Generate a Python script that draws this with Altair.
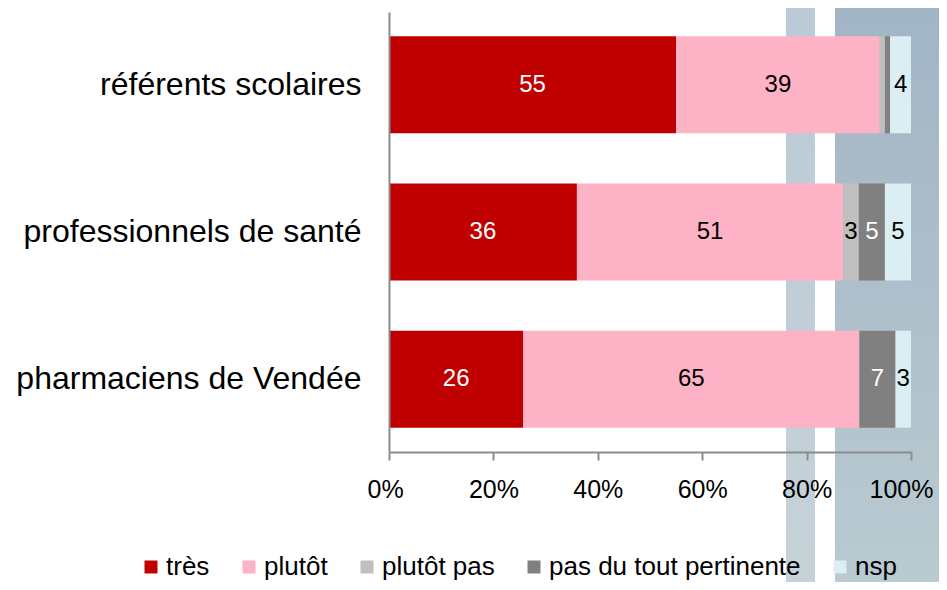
import altair as alt
import pandas as pd

categories = ["référents scolaires", "professionnels de santé", "pharmaciens de Vendée"]
series = ["très", "plutôt", "plutôt pas", "pas du tout pertinente", "nsp"]
colors = ["#C00000", "#FDB2C5", "#BFBFBF", "#808080", "#DAEEF3"]
white_label_series = ["très", "pas du tout pertinente"]

referents_scolaires = [55, 39, 1, 1, 4]
professionnels_sante = [36, 51, 3, 5, 5]
pharmaciens_vendee = [26, 65, 0, 7, 3]

rows = []
for cat, vals in zip(categories, [referents_scolaires, professionnels_sante, pharmaciens_vendee]):
    for i, (s, v) in enumerate(zip(series, vals)):
        rows.append({"cat": cat, "series": s, "order": i, "value": v})
df = pd.DataFrame(rows)

FONT = "Liberation Sans"

base = alt.Chart(df).transform_joinaggregate(
    total="sum(value)", groupby=["cat"]
).transform_calculate(
    pct="datum.value / datum.total"
).transform_stack(
    stack="pct", groupby=["cat"], sort=[alt.SortField("order", order="ascending")], as_=["x0", "x1"]
).transform_calculate(
    mid="(datum.x0 + datum.x1) / 2"
)

y_enc = alt.Y(
    "cat:N",
    sort=categories,
    title=None,
    scale=alt.Scale(paddingInner=0.34, paddingOuter=0.165),
    axis=alt.Axis(
        ticks=False,
        labelFont=FONT,
        labelFontSize=32,
        labelColor="#000000",
        labelPadding=28,
        domainColor="#8C8C8C",
        domainWidth=2,
        labelLimit=400,
        zindex=1,
    ),
)

bars = base.mark_bar(size=97).encode(
    x=alt.X(
        "x0:Q",
        scale=alt.Scale(domain=[0, 1]),
        title=None,
        axis=alt.Axis(
            format=".0%",
            values=[0, 0.2, 0.4, 0.6, 0.8, 1.0],
            grid=False,
            labelFlush=True,
            labelFlushOffset=22,
            labelFont=FONT,
            labelFontSize=25,
            labelColor="#000000",
            labelPadding=17,
            tickSize=8,
            tickColor="#8C8C8C",
            tickWidth=2,
            domainColor="#8C8C8C",
            domainWidth=2,
            zindex=1,
        ),
    ),
    x2="x1:Q",
    y=y_enc,
    color=alt.Color(
        "series:N",
        scale=alt.Scale(domain=series, range=colors),
        sort=series,
        legend=alt.Legend(
            title=None,
            orient="none",
            direction="horizontal",
            legendX=-251,
            legendY=542,
            symbolType="square",
            symbolSize=169,
            symbolStrokeWidth=0,
            symbolOpacity=1,
            labelFont=FONT,
            labelFontSize=26,
            labelColor="#000000",
            labelOffset=2,
            columnPadding=26,
            padding=0,
            labelLimit=400,
            zindex=1,
        ),
    ),
    order=alt.Order("order:Q"),
)

labels = base.transform_filter("datum.value >= 2").mark_text(
    font=FONT, fontSize=24, baseline="middle", align="center"
).encode(
    x=alt.X("mid:Q"),
    y=alt.Y("cat:N", sort=categories),
    text=alt.Text("value:Q", format=".0f"),
    color=alt.condition(
        alt.FieldOneOfPredicate(field="series", oneOf=white_label_series),
        alt.value("#FFFFFF"),
        alt.value("#000000"),
    ),
)

decor_df = pd.DataFrame({"d": [0]})
grad_dark = alt.LinearGradient(
    gradient="linear", x1=0, y1=0, x2=0, y2=1,
    stops=[alt.GradientStop(color="#A2B5C5", offset=0), alt.GradientStop(color="#BACAD1", offset=1)],
)
grad_light = alt.LinearGradient(
    gradient="linear", x1=0, y1=0, x2=0, y2=1,
    stops=[alt.GradientStop(color="#BBCAD6", offset=0), alt.GradientStop(color="#C6D2D8", offset=1)],
)
decor1 = alt.Chart(decor_df).mark_rect(color=grad_light).encode(
    x=alt.value(397), x2=alt.value(426), y=alt.value(-4), y2=alt.value(575)
)
decor2 = alt.Chart(decor_df).mark_rect(color=grad_dark).encode(
    x=alt.value(446), x2=alt.value(560), y=alt.value(-4), y2=alt.value(575)
)

chart = alt.layer(decor1, decor2, bars, labels).properties(
    width=522,
    height=440,
    autosize=alt.AutoSizeParams(type="none"),
    padding={"left": 381, "top": 4, "right": 28, "bottom": 130},
    background="#FFFFFF",
).configure_view(stroke=None)

chart.save("out.html", embed_options={"renderer": "svg", "actions": False})
